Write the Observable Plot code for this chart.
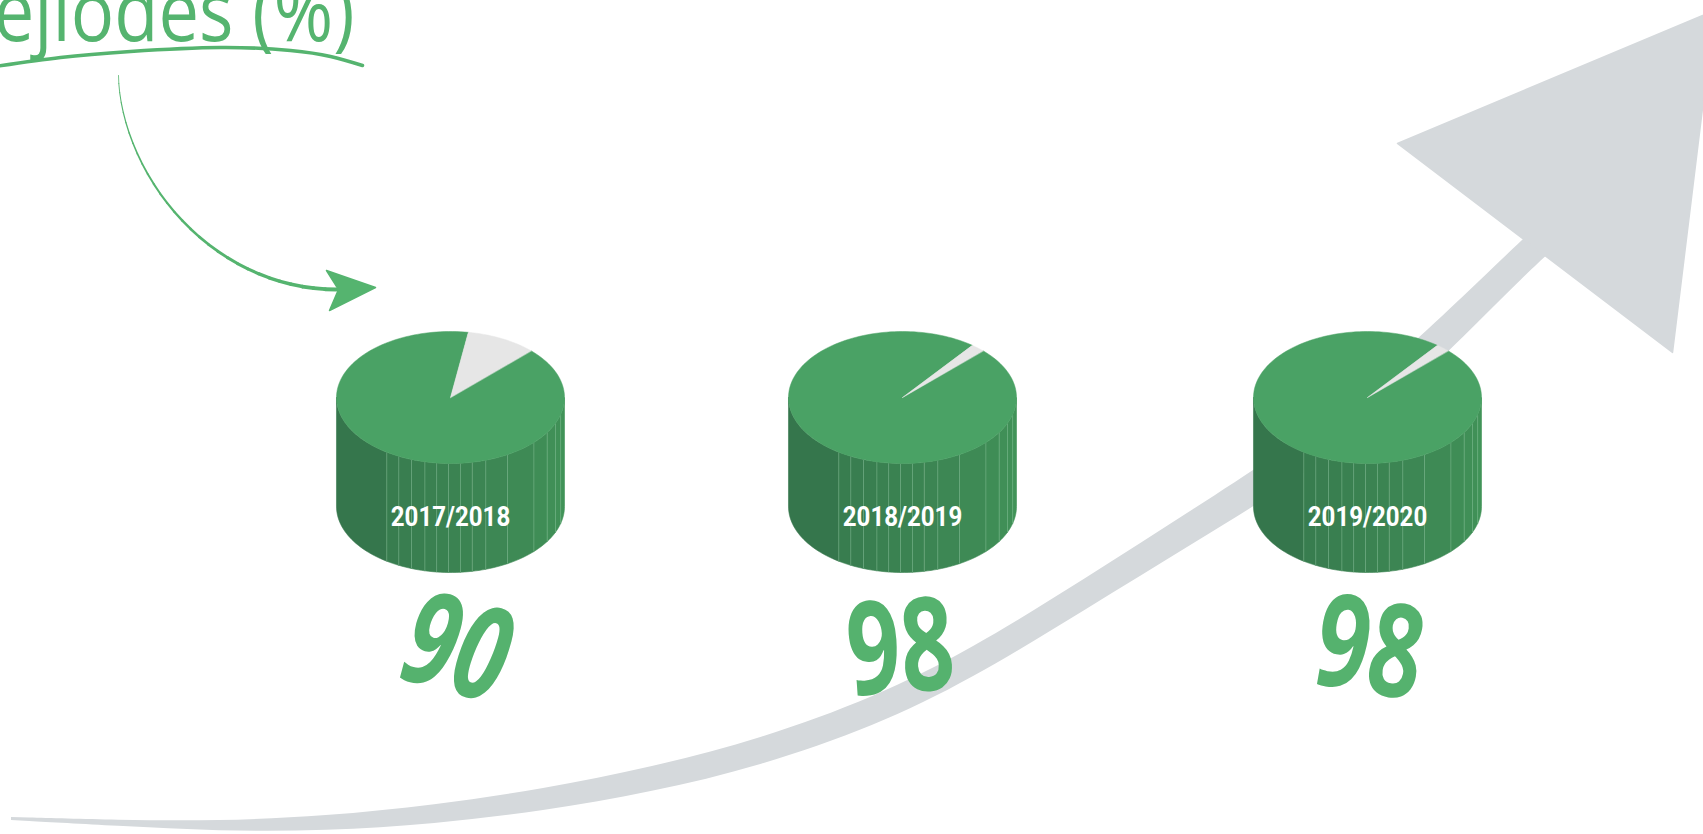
<!DOCTYPE html>
<html>
<head>
<meta charset="utf-8">
<script src="https://cdn.jsdelivr.net/npm/d3@7"></script>
<script src="https://cdn.jsdelivr.net/npm/@observablehq/plot@0.6"></script>
<style>
  html, body { margin: 0; padding: 0; background: #fff; overflow: hidden; }
  svg { display: block; }
</style>
</head>
<body>
<div id="chart"></div>
<script>
// ---------- data ----------
const years = ["2017/2018", "2018/2019", "2019/2020"];
const values = [90, 98, 98];
const titleText = "ejiodes (%)";

// ---------- layout (decoration & geometry, not data) ----------
const W = 1703, H = 834;
const centersX = [450, 902, 1367];
const topY = 397, RX = 114, RY = 66, DEPTH = 109;
const startAngle = 45;           // degrees clockwise from 12 o'clock
const labelY = 517;
const numY = 650;
const numDx = [6, -2, 2];
const numRotate = [15, -4, 10];
const numItalic = ["italic", "normal", "normal"];

const green = "#55b46f", numGreen = "#55b26e", topGreen = "#4aa265";
const greyArrow = "#d5d9dc", greySlice = "#e6e6e6";

// big grey arrow band (upper / lower edges)
const bandX  = [11, 120, 217, 326, 434, 543, 652, 760, 875, 970, 1086, 1195, 1300, 1360, 1420, 1480, 1523, 1552];
const bandY1 = [817, 820, 821, 816, 805, 789, 767, 739, 697, 650, 578, 508, 440, 390, 337, 280, 239, 212];
const bandY2 = [820, 826, 831, 831, 824, 811, 792, 766, 726, 680, 609, 542, 478, 430, 379, 320, 277, 250];
const headX = [1397, 1714, 1672];
const headY = [143, 10, 352];

// title underline swoosh
const swooshX = [-5, 60, 130, 220, 290, 330, 362];
const swooshY = [66, 57, 51, 47, 50, 56, 65];

// green curved arrow (flattened quarter ellipse) + head
const curve = {cx: 336, cy: 75, rx: 218, ry: 214, k: 1.12};
const gHeadX = [326, 375, 329, 338];
const gHeadY = [270, 287, 310, 289];

// side strip boundaries (degrees from front centre)
const stripA = [-90, -34, -27, -20, -13, -7, -1, 5, 11, 18, 30, 47, 58, 67, 75, 90];

// ---------- build geometry ----------
const deg = Math.PI / 180;
const band = bandX.map((x, i) => ({x, y1: bandY1[i], y2: bandY2[i]}));
const head = headX.map((x, i) => ({x, y: headY[i]}));
const swoosh = swooshX.map((x, i) => ({x, y: swooshY[i]}));
const gHead = gHeadX.map((x, i) => ({x, y: gHeadY[i]}));

const curvePts = d3.range(0, 91, 3).map(t => ({
  x: curve.cx - curve.rx * Math.cos(t * deg),
  y: curve.cy + curve.ry * Math.pow(Math.sin(t * deg), curve.k)
}));
const curveSegs = curvePts.slice(1).map((p, i) => ({
  x1: curvePts[i].x, y1: curvePts[i].y, x2: p.x, y2: p.y,
  w: 0.8 + 3.2 * i / (curvePts.length - 2)
}));

const sectors = [];
const strips = [];
const stripeLines = [];
const colorAt = d3.interpolateRgb("#33714a", "#429459");
years.forEach((yr, i) => {
  const cx = centersX[i];
  const p = values[i] / 100;
  const addSector = (key, fill, from, to) => {
    sectors.push({key, fill, x: cx, y: topY});
    const n = Math.max(2, Math.ceil((to - from) / 2));
    for (let k = 0; k <= n; k++) {
      const t = (from + (to - from) * k / n) * deg;
      sectors.push({key, fill, x: cx + RX * Math.sin(t), y: topY - RY * Math.cos(t)});
    }
  };
  addSector(yr + "-g", topGreen, startAngle, startAngle + 360 * p);
  addSector(yr + "-r", greySlice, startAngle + 360 * p, startAngle + 360);

  for (let s = 0; s < stripA.length - 1; s++) {
    const a0 = stripA[s], a1 = stripA[s + 1];
    const key = yr + "-s" + s;
    const fill = colorAt(((a0 + a1) / 2 + 90) / 180);
    const n = Math.max(2, Math.ceil((a1 - a0) / 2));
    const arc = d3.range(n + 1).map(k => a0 + (a1 - a0) * k / n);
    arc.forEach(a => strips.push({key, fill, x: cx + RX * Math.sin(a * deg), y: topY + RY * Math.cos(a * deg)}));
    arc.slice().reverse().forEach(a => strips.push({key, fill, x: cx + RX * Math.sin(a * deg), y: topY + DEPTH + RY * Math.cos(a * deg)}));
    if (s > 0) {
      const x = cx + RX * Math.sin(a0 * deg), y = topY + RY * Math.cos(a0 * deg);
      stripeLines.push({x, y1: y, y2: y + DEPTH});
    }
  }
});

const labels = years.map((yr, i) => ({text: yr, x: centersX[i], y: labelY}));
const nums = values.map((v, i) => ({text: String(v), x: centersX[i] + numDx[i], y: numY, r: numRotate[i], st: numItalic[i]}));

// ---------- plot ----------
const numMarks = nums.map(d => Plot.text([d], {x: "x", y: "y", text: "text", rotate: "r", fill: numGreen,
  fontSize: 130, fontWeight: 700, fontStyle: d.st, fontFamily: "Open Sans"}));

const plot = Plot.plot({
  width: W, height: H, margin: 0,
  x: {domain: [0, W], range: [0, W], axis: null},
  y: {domain: [0, H], range: [0, H], axis: null},
  color: {type: "identity"},
  style: {background: "#fff"},
  marks: [
    Plot.areaY(band, {x: "x", y1: "y1", y2: "y2", curve: "basis", fill: greyArrow}),
    Plot.line(head, {x: "x", y: "y", fill: greyArrow, stroke: greyArrow, curve: "linear-closed"}),
    Plot.text([titleText], {x: 354, y: 40, text: d => d, textAnchor: "end", lineAnchor: "bottom",
      fontSize: 84, fontFamily: "Open Sans", fill: green}),
    Plot.line(swoosh, {x: "x", y: "y", curve: "natural", stroke: green, strokeWidth: 3.5}),
    Plot.link(curveSegs, {x1: "x1", y1: "y1", x2: "x2", y2: "y2", stroke: green, strokeWidth: "w", strokeLinecap: "round"}),
    Plot.line(gHead, {x: "x", y: "y", fill: green, stroke: green, curve: "linear-closed"}),
    Plot.line(strips, {x: "x", y: "y", z: "key", fill: "fill", stroke: "fill", strokeWidth: 0.6, curve: "linear-closed"}),
    Plot.link(stripeLines, {x1: "x", x2: "x", y1: "y1", y2: "y2", stroke: "#9ed2ad", strokeOpacity: 0.45, strokeWidth: 0.8}),
    Plot.line(sectors, {x: "x", y: "y", z: "key", fill: "fill", stroke: "fill", strokeWidth: 0.5, curve: "linear-closed"}),
    Plot.text(labels, {x: "x", y: "y", text: "text", fill: "#ffffff", fontSize: 28, fontWeight: 700, fontFamily: "Roboto"}),
    ...numMarks
  ]
});

// condense glyphs (typographic width) for the narrow fonts of the original
function condense(sel, s) {
  sel.each(function () {
    let tr = this.getAttribute("transform");
    if (!tr) {
      const x = this.getAttribute("x") || 0, y = this.getAttribute("y") || 0;
      this.removeAttribute("x"); this.removeAttribute("y");
      tr = `translate(${x},${y})`;
    }
    this.setAttribute("transform", tr + ` scale(${s},1)`);
  });
}
const svg = d3.select(plot);
const numTexts = new Set(values.map(String));
condense(svg.selectAll("text").filter(function () { return numTexts.has(this.textContent); }), 0.72);
condense(svg.selectAll("text").filter(function () { return years.includes(this.textContent); }), 0.86);
condense(svg.selectAll("text").filter(function () { return this.textContent === titleText; }), 0.86);

document.getElementById("chart").appendChild(plot);
</script>
</body>
</html>
